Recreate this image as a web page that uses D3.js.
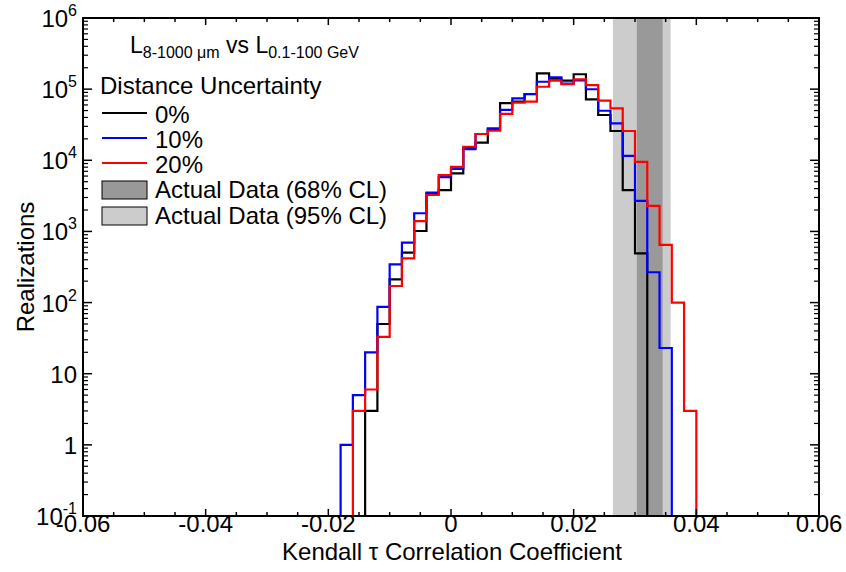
<!DOCTYPE html>
<html><head><meta charset="utf-8">
<script src="https://cdn.jsdelivr.net/npm/d3@7/dist/d3.min.js"></script>
<style>
html,body{margin:0;padding:0;background:#fff;}
text{font-family:"Liberation Sans",Arial,Helvetica,sans-serif;fill:#000;}
</style></head>
<body>
<svg id="chart" width="846" height="572"></svg>
<script>
// ---- data ----
const binLeftEdges = [-0.018,-0.016,-0.014,-0.012,-0.010,-0.008,-0.006,-0.004,-0.002,0.000,
  0.002,0.004,0.006,0.008,0.010,0.012,0.014,0.016,0.018,0.020,
  0.022,0.024,0.026,0.028,0.030,0.032,0.034,0.036,0.038];
const binWidth = 0.002;
const counts0 = [0,0,3,50,212,503,1014,3400,3800,6560,
  15000,17700,27000,63500,67000,85000,167000,140000,132000,162000,
  72000,43300,25800,3800,493,0,0,0,0];
const counts10 = [1,5,20,87,345,695,1800,3500,5800,7550,
  14300,23400,28000,51000,74400,85500,127000,147000,120000,133000,
  99600,49700,33100,11500,2680,267,23,0,0];
const counts20 = [0,3,6,33,171,419,1400,3250,6200,8100,
  15500,23400,26000,45000,64500,66700,108000,132000,118000,137000,
  114000,68800,53800,25800,9500,2280,646,100,3];
const seriesNames = ["0%","10%","20%"];
const seriesColors = ["#000000","#0000ff","#ff0000"];
const band68 = [0.0303,0.0345];
const band95 = [0.0264,0.0358];
const bandLabels = ["Actual Data (68% CL)","Actual Data (95% CL)"];
const bandColors = ["#999999","#cccccc"];
const xDomain = [-0.06,0.06];
const yDomain = [0.1,1e6];
const xMajorTicks = [-0.06,-0.04,-0.02,0,0.02,0.04,0.06];
const xTickLabels = ["-0.06","-0.04","-0.02","0","0.02","0.04","0.06"];
const yMajorTicks = [0.1,1,10,100,1e3,1e4,1e5,1e6];
const yTickLabels = [["10","-1"],["1",""],["10",""],["10","2"],["10","3"],["10","4"],["10","5"],["10","6"]];

// ---- layout ----
const svg = d3.select("#chart");
const L = 83, R = 819, T = 18, B = 516;
const x = d3.scaleLinear().domain(xDomain).range([L,R]);
const y = d3.scaleLog().domain(yDomain).range([B,T]);

// bands
const g = svg.append("g");
g.append("rect").attr("x",x(band95[0])).attr("y",T).attr("width",x(band95[1])-x(band95[0])).attr("height",B-T).attr("fill",bandColors[1]);
g.append("rect").attr("x",x(band68[0])).attr("y",T).attr("width",x(band68[1])-x(band68[0])).attr("height",B-T).attr("fill",bandColors[0]);

// histograms
function stepPoints(counts){
  const pts = [[xDomain[0], 0]];
  counts.forEach((c,i)=>pts.push([binLeftEdges[i], c]));
  const lastEdge = binLeftEdges[binLeftEdges.length-1] + binWidth;
  pts.push([lastEdge, 0]);
  pts.push([xDomain[1], 0]);
  return pts;
}
const line = d3.line()
  .x(d=>x(d[0]))
  .y(d=>y(Math.max(d[1], yDomain[0])))
  .curve(d3.curveStepAfter);
[counts0, counts10, counts20].forEach((c,i)=>{
  svg.append("path").datum(stepPoints(c)).attr("d",line)
    .attr("fill","none").attr("stroke",seriesColors[i]).attr("stroke-width",2.2)
    .attr("stroke-linejoin","miter");
});

// axes frame
const ax = svg.append("g");
ax.append("rect").attr("x",L).attr("y",T).attr("width",R-L).attr("height",B-T)
  .attr("fill","none").attr("stroke","#000").attr("stroke-width",2);

// x ticks (major every 0.02, minor every 0.005)
const xMinor = d3.range(0,25).map(i=>xDomain[0]+i*0.005);
xMinor.forEach(v=>{
  const isMajor = xMajorTicks.some(t=>Math.abs(t-v)<1e-9);
  const len = isMajor ? 7 : 4;
  ax.append("line").attr("x1",x(v)).attr("x2",x(v)).attr("y1",B).attr("y2",B-len).attr("stroke","#000").attr("stroke-width",1.5);
  ax.append("line").attr("x1",x(v)).attr("x2",x(v)).attr("y1",T).attr("y2",T+len).attr("stroke","#000").attr("stroke-width",1.5);
});
xMajorTicks.forEach((v,i)=>{
  ax.append("text").attr("x",x(v)).attr("y",B+16).attr("text-anchor","middle")
    .attr("font-size",24).text(xTickLabels[i]);
});

// y ticks
yMajorTicks.forEach((v,i)=>{
  ax.append("line").attr("x1",L).attr("x2",L+9).attr("y1",y(v)).attr("y2",y(v)).attr("stroke","#000").attr("stroke-width",1.5);
  ax.append("line").attr("x1",R).attr("x2",R-9).attr("y1",y(v)).attr("y2",y(v)).attr("stroke","#000").attr("stroke-width",1.5);
  if (i < yMajorTicks.length-1){
    for(let k=2;k<=9;k++){
      const mv = v*k;
      ax.append("line").attr("x1",L).attr("x2",L+5).attr("y1",y(mv)).attr("y2",y(mv)).attr("stroke","#000").attr("stroke-width",1.2);
      ax.append("line").attr("x1",R).attr("x2",R-5).attr("y1",y(mv)).attr("y2",y(mv)).attr("stroke","#000").attr("stroke-width",1.2);
    }
  }
  const lab = yTickLabels[i];
  const t = ax.append("text").attr("x",L-6).attr("y",y(v)+9).attr("text-anchor","end").attr("font-size",24);
  t.append("tspan").text(lab[0]);
  if (lab[1]) t.append("tspan").attr("font-size",16).attr("dy",-11).text(lab[1]);
});

// axis titles
svg.append("text").attr("x",452).attr("y",560).attr("text-anchor","middle").attr("font-size",24)
  .text("Kendall τ Correlation Coefficient");
svg.append("text").attr("transform",`translate(34,${(T+B)/2}) rotate(-90)`).attr("text-anchor","middle").attr("font-size",24)
  .text("Realizations");

// legend
const lg = svg.append("g");
const tt = lg.append("text").attr("x",130).attr("y",53).attr("font-size",23);
tt.append("tspan").text("L");
tt.append("tspan").attr("font-size",16).attr("dy",5).text("8-1000 μm");
tt.append("tspan").attr("dy",-5).text(" vs L");
tt.append("tspan").attr("font-size",16).attr("dy",5).text("0.1-100 GeV");
lg.append("text").attr("x",100).attr("y",94).attr("font-size",24).text("Distance Uncertainty");
const rowY = [113,138,163];
seriesNames.forEach((n,i)=>{
  lg.append("line").attr("x1",102).attr("x2",147).attr("y1",rowY[i]).attr("y2",rowY[i])
    .attr("stroke",seriesColors[i]).attr("stroke-width",2.2);
  lg.append("text").attr("x",155).attr("y",rowY[i]+10).attr("font-size",24).text(n);
});
const boxY = [181,207];
bandLabels.forEach((n,i)=>{
  lg.append("rect").attr("x",102).attr("y",boxY[i]).attr("width",45).attr("height",18)
    .attr("fill",bandColors[i]).attr("stroke","#000").attr("stroke-width",1);
  lg.append("text").attr("x",155).attr("y",boxY[i]+17).attr("font-size",24).text(n);
});
</script>
</body></html>
